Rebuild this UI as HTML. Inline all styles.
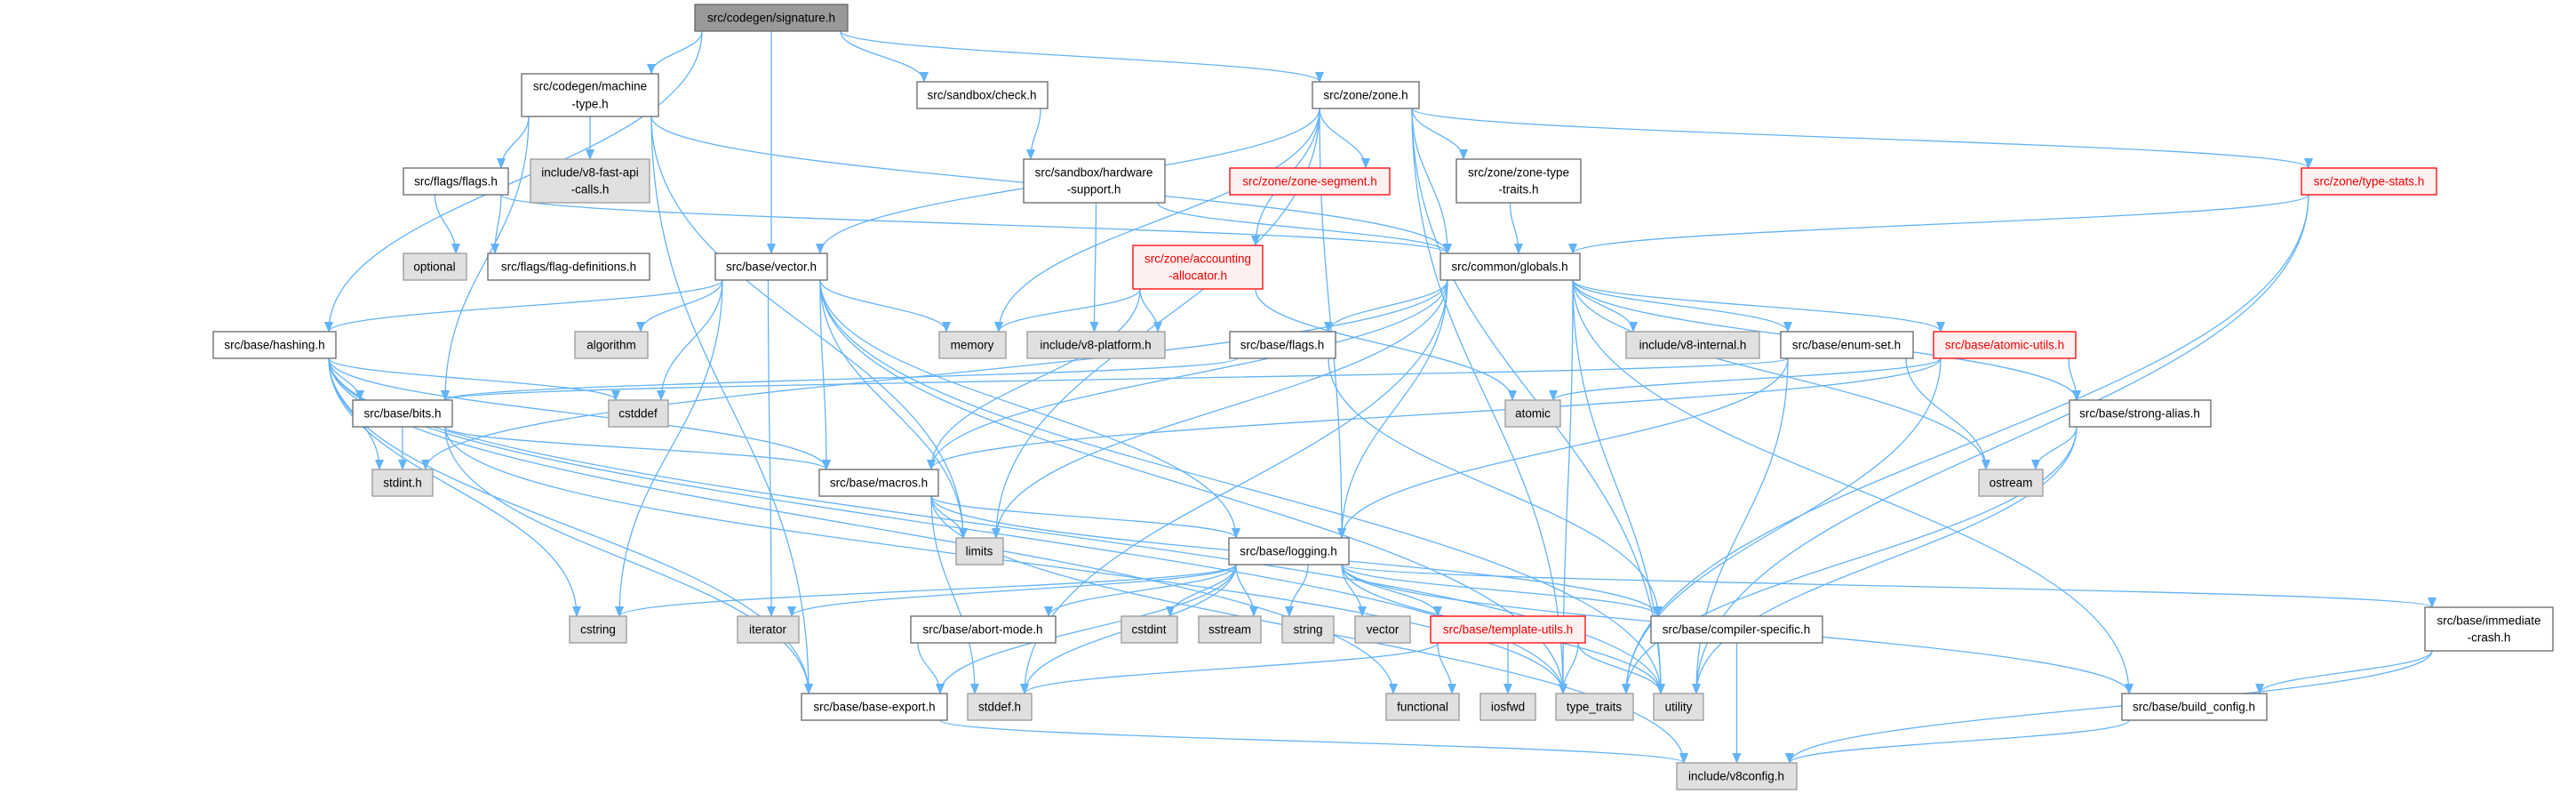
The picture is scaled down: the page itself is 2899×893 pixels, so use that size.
<!DOCTYPE html>
<html><head><meta charset="utf-8"><style>
html,body{margin:0;padding:0;background:#fff;}
svg{display:block;}
text{font-family:"Liberation Sans","DejaVu Sans",sans-serif;font-size:13.5px;text-anchor:middle;dominant-baseline:central;}
.w rect{fill:#fff;stroke:#666;stroke-width:1.3;}
.g rect{fill:#e0e0e0;stroke:#999;stroke-width:1.3;}
.r rect{fill:#fff0f0;stroke:#f00;stroke-width:1.3;}
.r text{fill:#e00;}
.s rect{fill:#999;stroke:#666;stroke-width:1.3;}
#edges path{fill:none;stroke:#63b3f8;stroke-width:1.3;}
</style></head><body>
<svg id="svg" width="2899" height="893" viewBox="0 0 2899 893" xmlns="http://www.w3.org/2000/svg">
<defs><marker id="ah" markerWidth="12" markerHeight="10" refX="11" refY="5" orient="auto" markerUnits="userSpaceOnUse"><path d="M0,0 L12,5 L0,10 z" fill="#63b3f8"/></marker></defs>
<g id="edges"></g>
<g id="nodes">
<g id="sig" class="s"><rect x="782" y="5" width="172" height="30"/><text x="868" y="20">src/codegen/signature.h</text></g>
<g id="mt" class="w"><rect x="587" y="83" width="154" height="48"/><text x="664" y="97">src/codegen/machine</text><text x="664" y="117">-type.h</text></g>
<g id="ffl" class="w"><rect x="454" y="189" width="118" height="30"/><text x="513" y="204">src/flags/flags.h</text></g>
<g id="fapi" class="g"><rect x="597" y="179" width="134" height="49"/><text x="664" y="194">include/v8-fast-api</text><text x="664" y="213">-calls.h</text></g>
<g id="opt" class="g"><rect x="454" y="285" width="71" height="30"/><text x="489" y="300">optional</text></g>
<g id="fdef" class="w"><rect x="549" y="285" width="182" height="30"/><text x="640" y="300">src/flags/flag-definitions.h</text></g>
<g id="vec" class="w"><rect x="805" y="285" width="126" height="30"/><text x="868" y="300">src/base/vector.h</text></g>
<g id="hash" class="w"><rect x="240" y="373" width="138" height="30"/><text x="309" y="388">src/base/hashing.h</text></g>
<g id="alg" class="g"><rect x="647" y="373" width="82" height="30"/><text x="688" y="388">algorithm</text></g>
<g id="chk" class="w"><rect x="1032" y="92" width="147" height="30"/><text x="1105" y="107">src/sandbox/check.h</text></g>
<g id="zone" class="w"><rect x="1477" y="92" width="120" height="30"/><text x="1537" y="107">src/zone/zone.h</text></g>
<g id="hw" class="w"><rect x="1152" y="179" width="159" height="49"/><text x="1231" y="194">src/sandbox/hardware</text><text x="1231" y="213">-support.h</text></g>
<g id="zseg" class="r"><rect x="1384" y="189" width="180" height="30"/><text x="1474" y="204">src/zone/zone-segment.h</text></g>
<g id="ztt" class="w"><rect x="1639" y="179" width="140" height="49"/><text x="1709" y="194">src/zone/zone-type</text><text x="1709" y="213">-traits.h</text></g>
<g id="acc" class="r"><rect x="1275" y="276" width="146" height="49"/><text x="1348" y="291">src/zone/accounting</text><text x="1348" y="310">-allocator.h</text></g>
<g id="glob" class="w"><rect x="1621" y="285" width="157" height="30"/><text x="1699" y="300">src/common/globals.h</text></g>
<g id="mem" class="g"><rect x="1057" y="373" width="75" height="30"/><text x="1094" y="388">memory</text></g>
<g id="plat" class="g"><rect x="1156" y="373" width="155" height="30"/><text x="1233" y="388">include/v8-platform.h</text></g>
<g id="bfl" class="w"><rect x="1384" y="373" width="119" height="30"/><text x="1443" y="388">src/base/flags.h</text></g>
<g id="int" class="g"><rect x="1830" y="373" width="150" height="30"/><text x="1905" y="388">include/v8-internal.h</text></g>
<g id="ts" class="r"><rect x="2590" y="189" width="152" height="30"/><text x="2666" y="204">src/zone/type-stats.h</text></g>
<g id="es" class="w"><rect x="2004" y="373" width="149" height="30"/><text x="2078" y="388">src/base/enum-set.h</text></g>
<g id="au" class="r"><rect x="2176" y="373" width="160" height="30"/><text x="2256" y="388">src/base/atomic-utils.h</text></g>
<g id="bits" class="w"><rect x="397" y="450" width="112" height="30"/><text x="453" y="465">src/base/bits.h</text></g>
<g id="csd" class="g"><rect x="685" y="450" width="67" height="30"/><text x="718" y="465">cstddef</text></g>
<g id="sti" class="g"><rect x="419" y="528" width="68" height="30"/><text x="453" y="543">stdint.h</text></g>
<g id="mac" class="w"><rect x="922" y="528" width="134" height="30"/><text x="989" y="543">src/base/macros.h</text></g>
<g id="cstr" class="g"><rect x="641" y="693" width="64" height="30"/><text x="673" y="708">cstring</text></g>
<g id="iter" class="g"><rect x="830" y="693" width="69" height="30"/><text x="864" y="708">iterator</text></g>
<g id="bex" class="w"><rect x="902" y="780" width="164" height="30"/><text x="984" y="795">src/base/base-export.h</text></g>
<g id="atom" class="g"><rect x="1694" y="450" width="62" height="30"/><text x="1725" y="465">atomic</text></g>
<g id="lim" class="g"><rect x="1076" y="605" width="53" height="30"/><text x="1102" y="620">limits</text></g>
<g id="log" class="w"><rect x="1383" y="605" width="135" height="30"/><text x="1450" y="620">src/base/logging.h</text></g>
<g id="abm" class="w"><rect x="1025" y="693" width="163" height="30"/><text x="1106" y="708">src/base/abort-mode.h</text></g>
<g id="csi" class="g"><rect x="1262" y="693" width="63" height="30"/><text x="1293" y="708">cstdint</text></g>
<g id="sst" class="g"><rect x="1349" y="693" width="70" height="30"/><text x="1384" y="708">sstream</text></g>
<g id="str" class="g"><rect x="1443" y="693" width="58" height="30"/><text x="1472" y="708">string</text></g>
<g id="vv" class="g"><rect x="1525" y="693" width="62" height="30"/><text x="1556" y="708">vector</text></g>
<g id="tu" class="r"><rect x="1610" y="693" width="174" height="30"/><text x="1697" y="708">src/base/template-utils.h</text></g>
<g id="cs" class="w"><rect x="1858" y="693" width="193" height="30"/><text x="1954" y="708">src/base/compiler-specific.h</text></g>
<g id="sdh" class="g"><rect x="1089" y="780" width="72" height="30"/><text x="1125" y="795">stddef.h</text></g>
<g id="fun" class="g"><rect x="1560" y="780" width="82" height="30"/><text x="1601" y="795">functional</text></g>
<g id="iof" class="g"><rect x="1666" y="780" width="62" height="30"/><text x="1697" y="795">iosfwd</text></g>
<g id="tt" class="g"><rect x="1751" y="780" width="87" height="30"/><text x="1794" y="795">type_traits</text></g>
<g id="ut" class="g"><rect x="1861" y="780" width="56" height="30"/><text x="1889" y="795">utility</text></g>
<g id="v8c" class="g"><rect x="1887" y="858" width="135" height="30"/><text x="1954" y="873">include/v8config.h</text></g>
<g id="sa" class="w"><rect x="2329" y="450" width="159" height="30"/><text x="2408" y="465">src/base/strong-alias.h</text></g>
<g id="ost" class="g"><rect x="2227" y="528" width="72" height="30"/><text x="2263" y="543">ostream</text></g>
<g id="ic" class="w"><rect x="2729" y="683" width="144" height="49"/><text x="2801" y="698">src/base/immediate</text><text x="2801" y="717">-crash.h</text></g>
<g id="bc" class="w"><rect x="2388" y="780" width="163" height="30"/><text x="2469" y="795">src/base/build_config.h</text></g>
</g>
</svg>
<script>
(function(){
var E=[
["sig","mt"],["sig","hash"],["sig","vec"],["sig","chk"],["sig","zone"],
["mt","ffl"],["mt","fapi"],["mt","glob"],["mt","bits"],["mt","lim"],["mt","bex"],
["ffl","opt"],["ffl","fdef"],["ffl","glob"],
["chk","hw"],["hw","plat"],["hw","glob"],
["zone","vec"],["zone","mem"],["zone","lim"],["zone","zseg"],["zone","acc"],["zone","glob"],["zone","ztt"],["zone","ts"],["zone","log"],["zone","ut"],["zone","tt"],
["ztt","glob"],["ts","glob"],["ts","ut"],["ts","tt"],
["acc","mem"],["acc","plat"],["acc","atom"],["acc","mac"],
["glob","bfl"],["glob","int"],["glob","es"],["glob","au"],["glob","sa"],["glob","ost"],["glob","bc"],["glob","log"],["glob","mac"],["glob","lim"],["glob","sti"],["glob","sdh"],["glob","ut"],["glob","tt"],
["bfl","bits"],["bfl","cs"],
["vec","hash"],["vec","alg"],["vec","mem"],["vec","cstr"],["vec","iter"],["vec","mac"],["vec","lim"],["vec","log"],["vec","csd"],["vec","tt"],["vec","ut"],
["hash","bits"],["hash","csd"],["hash","sti"],["hash","mac"],["hash","cstr"],["hash","bex"],["hash","fun"],["hash","tt"],["hash","ut"],
["bits","sti"],["bits","mac"],["bits","bex"],["bits","tt"],
["es","bits"],["es","ost"],["es","log"],["es","ut"],
["au","atom"],["au","mac"],["au","sa"],["au","tt"],
["sa","ost"],["sa","tt"],["sa","ut"],
["mac","lim"],["mac","log"],["mac","v8c"],["mac","cs"],["mac","sdh"],
["log","cstr"],["log","iter"],["log","abm"],["log","csi"],["log","sst"],["log","str"],["log","vv"],["log","tu"],["log","cs"],["log","ut"],["log","bex"],["log","ic"],["log","bc"],["log","sdh"],
["abm","bex"],
["tu","fun"],["tu","iof"],["tu","tt"],["tu","ut"],["tu","sdh"],
["cs","v8c"],["bex","v8c"],["ic","bc"],["ic","v8c"],["bc","v8c"]
];
function B(id){var r=document.querySelector('#'+id+' rect');var x=+r.getAttribute('x'),y=+r.getAttribute('y'),w=+r.getAttribute('width'),h=+r.getAttribute('height');return {x:x,y:y,w:w,h:h,cx:x+w/2,cy:y+h/2};}
function cl(v,a,b){return Math.max(a,Math.min(b,v));}
var g=document.getElementById('edges'),ns='http://www.w3.org/2000/svg';
E.forEach(function(e){
 var a=B(e[0]),b=B(e[1]),d;
 if(b.y>a.y+a.h-2){
  var sx=cl(b.cx,a.x+8,a.x+a.w-8),sy=a.y+a.h;
  var tx=cl(a.cx,b.x+8,b.x+b.w-8),ty=b.y;
  var dy=(ty-sy)*0.45;
  d='M'+sx+','+sy+' C'+sx+','+(sy+dy)+' '+tx+','+(ty-dy)+' '+tx+','+ty;
 } else {
  var left=b.cx<a.cx;
  var sx=left?a.x:a.x+a.w,sy=a.cy,tx=left?b.x+b.w:b.x,ty=b.cy;
  var dx=(tx-sx)*0.45;
  d='M'+sx+','+sy+' C'+(sx+dx)+','+sy+' '+(tx-dx)+','+ty+' '+tx+','+ty;
 }
 var p=document.createElementNS(ns,'path');p.setAttribute('d',d);p.setAttribute('marker-end','url(#ah)');g.appendChild(p);
});
})();
</script>
</body></html>
